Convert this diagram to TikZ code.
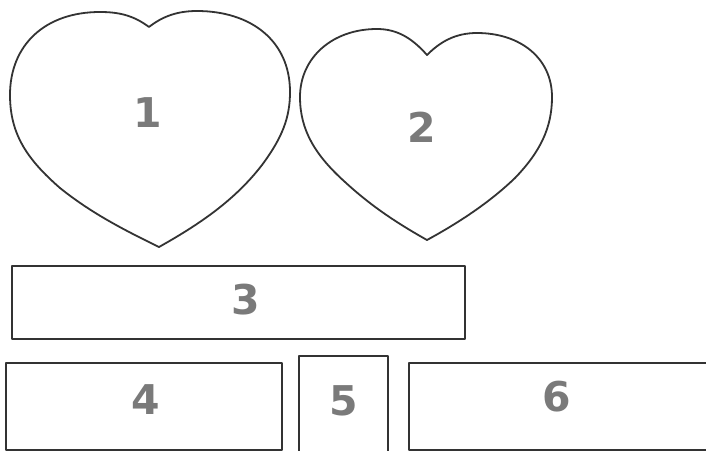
\documentclass[tikz,border=0pt]{standalone}
\usepackage{fontspec}
\setmainfont{DejaVu Sans}
\definecolor{edge}{HTML}{333333}
\definecolor{digit}{HTML}{7A7A7A}
\begin{document}
\begin{tikzpicture}[x=1pt,y=-1pt,
  outline/.style={draw=edge,line width=1.8pt,line join=round},
  numlabel/.style={text=digit,font=\fontsize{41}{41}\selectfont\bfseries,inner sep=0pt,anchor=center},
  boxshape/.style={outline,rectangle,inner sep=0pt,anchor=north west}]
\useasboundingbox (0,0) rectangle (706,450);
\fill[white] (0,0) rectangle (706,450);
% heart 1
\draw[outline] (149,27) .. controls (133,15) and (118,12) .. (100,12)
  .. controls (45,12) and (10,45) .. (10,95)
  .. controls (10,135) and (28,160) .. (60,188)
  .. controls (90,212) and (120,228) .. (159,247)
  .. controls (200,224) and (235,200) .. (262,165)
  .. controls (282,138) and (290,118) .. (290,92)
  .. controls (290,40) and (250,11) .. (197,11)
  .. controls (178,11) and (163,16) .. (149,27) -- cycle;
\node[numlabel] (n1) at (148,113) {1};
% heart 2
\draw[outline] (427,55) .. controls (412,38) and (397,29) .. (377,29)
  .. controls (332,29) and (300,58) .. (300,97)
  .. controls (300,130) and (315,155) .. (345,182)
  .. controls (370,205) and (395,222) .. (427,240)
  .. controls (460,222) and (490,202) .. (515,178)
  .. controls (540,152) and (552,128) .. (552,97)
  .. controls (552,58) and (520,33) .. (477,33)
  .. controls (455,33) and (440,42) .. (427,55) -- cycle;
\node[numlabel] (n2) at (422,127) {2};
% rectangles
\node[boxshape,minimum width=453pt,minimum height=73pt] (r3) at (11,265) {};
\node[numlabel] (n3) at (246,300) {3};
\node[boxshape,minimum width=276pt,minimum height=87pt] (r4) at (5,362) {};
\node[numlabel] (n4) at (146,400) {4};
\node[boxshape,minimum width=89pt,minimum height=110pt] (r5) at (298,355) {};
\node[numlabel] (n5) at (344,401) {5};
\node[boxshape,minimum width=320pt,minimum height=87pt] (r6) at (408,362) {};
\node[numlabel] (n6) at (557,397) {6};
\end{tikzpicture}
\end{document}
